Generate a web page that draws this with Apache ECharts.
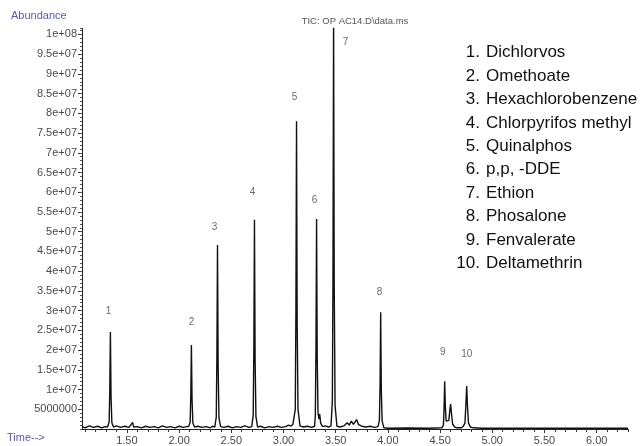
<!DOCTYPE html>
<html>
<head>
<meta charset="utf-8">
<script src="https://cdn.jsdelivr.net/npm/echarts@6/dist/echarts.min.js"></script>
<style>
html,body{margin:0;padding:0;background:#fff;}
#chart{width:641px;height:446px;}
</style>
</head>
<body>
<div id="chart"></div>
<script>
// ---- data ----
const chartTitle = 'TIC: OP AC14.D\\data.ms';
const yAxisName = 'Abundance';
const xAxisName = 'Time-->';

// Total ion chromatogram: [retention time (min), abundance]
const ticData = [
  [1.07, 6.0e5], [1.10, 3.0e5], [1.14, 8.0e5], [1.18, 4.0e5], [1.22, 7.0e5], [1.26, 3.0e5], [1.29, 6.0e5],
  [1.315, 5.0e5], [1.330, 1.8e6], [1.336, 9.5e6], [1.342, 2.46e7], [1.348, 8.5e6], [1.356, 1.6e6], [1.372, 5.0e5],
  [1.40, 8.0e5], [1.44, 4.0e5], [1.48, 7.0e5], [1.52, 4.0e5], [1.555, 1.7e6], [1.565, 5.0e5], [1.60, 6.0e5],
  [1.64, 3.0e5], [1.68, 7.0e5], [1.72, 4.0e5], [1.76, 6.0e5], [1.80, 3.0e5], [1.84, 8.0e5], [1.88, 4.0e5],
  [1.92, 6.0e5], [1.96, 3.0e5], [2.00, 7.0e5], [2.04, 4.0e5], [2.07, 6.0e5],
  [2.092, 6.0e5], [2.106, 1.7e6], [2.112, 8.5e6], [2.118, 2.13e7], [2.124, 7.5e6], [2.132, 1.5e6], [2.148, 5.0e5],
  [2.18, 7.0e5], [2.22, 4.0e5], [2.26, 6.0e5], [2.30, 3.0e5], [2.32, 7.0e5],
  [2.342, 5.0e5], [2.356, 3.0e6], [2.362, 1.8e7], [2.368, 4.66e7], [2.374, 1.6e7], [2.382, 2.8e6], [2.398, 6.0e5],
  [2.43, 4.0e5], [2.47, 7.0e5], [2.51, 3.0e5], [2.55, 6.0e5], [2.59, 4.0e5], [2.63, 8.0e5], [2.67, 4.0e5],
  [2.696, 6.0e5], [2.710, 3.5e6], [2.716, 2.0e7], [2.722, 5.30e7], [2.728, 1.8e7], [2.736, 3.2e6], [2.752, 5.0e5],
  [2.78, 7.0e5], [2.82, 3.0e5], [2.86, 6.0e5], [2.90, 4.0e5], [2.94, 7.0e5], [2.98, 4.0e5], [3.02, 6.0e5],
  [3.05, 1.0e6], [3.07, 7.0e5], [3.09, 1.2e6],
  [3.099, 1.0e6], [3.113, 5.0e6], [3.119, 3.0e7], [3.125, 7.80e7], [3.131, 2.7e7], [3.139, 5.0e6], [3.158, 8.0e5],
  [3.19, 5.0e5], [3.23, 7.0e5], [3.27, 4.0e5],
  [3.298, 7.0e5], [3.305, 3.5e6], [3.311, 2.0e7], [3.317, 5.32e7], [3.323, 1.8e7], [3.331, 4.0e6], [3.340, 2.5e6],
  [3.347, 3.8e6], [3.356, 1.5e6], [3.375, 6.0e5], [3.40, 8.0e5], [3.43, 5.0e5],
  [3.455, 8.0e5], [3.468, 7.0e6], [3.474, 3.8e7], [3.480, 1.05e8], [3.486, 3.6e7], [3.494, 6.0e6], [3.512, 7.0e5],
  [3.54, 5.0e5], [3.58, 8.0e5], [3.61, 1.6e6], [3.63, 1.0e6], [3.65, 2.0e6], [3.67, 1.2e6], [3.70, 2.4e6],
  [3.72, 1.1e6], [3.75, 7.0e5], [3.79, 5.0e5], [3.83, 7.0e5], [3.87, 4.0e5],
  [3.905, 6.0e5], [3.919, 2.2e6], [3.925, 1.1e7], [3.931, 2.96e7], [3.937, 1.0e7], [3.945, 2.0e6], [3.962, 3.0e5],
  [4.00, 2.0e5], [4.20, 2.5e5], [4.40, 2.0e5],
  [4.518, 3.0e5], [4.532, 1.0e6], [4.538, 5.0e6], [4.544, 1.21e7], [4.550, 6.0e6], [4.558, 2.0e6], [4.570, 1.6e6],
  [4.584, 2.2e6], [4.594, 5.0e6], [4.601, 6.3e6], [4.608, 4.2e6], [4.620, 1.2e6], [4.640, 5.0e5], [4.66, 3.0e5],
  [4.70, 3.0e5], [4.720, 6.0e5], [4.738, 1.5e6], [4.746, 5.5e6], [4.755, 1.09e7], [4.763, 5.5e6], [4.772, 1.5e6],
  [4.790, 5.0e5], [4.82, 3.0e5], [4.90, 2.0e5], [5.50, 2.0e5], [6.30, 2.0e5]
];

// Peak number labels above each peak: [time, abundance]
const peakNumbers = ['1', '2', '3', '4', '5', '6', '7', '8', '9', '10'];
const peakLabelTimes = [1.324, 2.118, 2.339, 2.703, 3.106, 3.298, 3.595, 3.921, 4.525, 4.755];
const peakLabelHeights = [2.99e7, 2.71e7, 5.12e7, 6.00e7, 8.41e7, 5.80e7, 9.81e7, 3.47e7, 1.95e7, 1.90e7];

// Compound list
const compoundNames = [
  'Dichlorvos', 'Omethoate', 'Hexachlorobenzene', 'Chlorpyrifos methyl', 'Quinalphos',
  'p,p, -DDE', 'Ethion', 'Phosalone', 'Fenvalerate', 'Deltamethrin'
];

// Axes
const xMin = 1.07, xMax = 6.30;
const yMin = 0, yMax = 1.015e8;
const xMajorTicks = [1.5, 2.0, 2.5, 3.0, 3.5, 4.0, 4.5, 5.0, 5.5, 6.0];
const xTickLabels = ['1.50', '2.00', '2.50', '3.00', '3.50', '4.00', '4.50', '5.00', '5.50', '6.00'];
const xMinorTicks = [1.1, 1.2, 1.3, 1.4, 1.6, 1.7, 1.8, 1.9, 2.1, 2.2, 2.3, 2.4, 2.6, 2.7, 2.8, 2.9,
  3.1, 3.2, 3.3, 3.4, 3.6, 3.7, 3.8, 3.9, 4.1, 4.2, 4.3, 4.4, 4.6, 4.7, 4.8, 4.9,
  5.1, 5.2, 5.3, 5.4, 5.6, 5.7, 5.8, 5.9, 6.1, 6.2, 6.3];
const yMajorTicks = [5e6, 1e7, 1.5e7, 2e7, 2.5e7, 3e7, 3.5e7, 4e7, 4.5e7, 5e7,
  5.5e7, 6e7, 6.5e7, 7e7, 7.5e7, 8e7, 8.5e7, 9e7, 9.5e7, 1e8];
const yTickLabels = ['5000000', '1e+07', '1.5e+07', '2e+07', '2.5e+07', '3e+07', '3.5e+07', '4e+07', '4.5e+07', '5e+07',
  '5.5e+07', '6e+07', '6.5e+07', '7e+07', '7.5e+07', '8e+07', '8.5e+07', '9e+07', '9.5e+07', '1e+08'];
const yMinorInterval = 1e6;

// ---- chart ----
function lookup(values, labels, v) {
  for (let i = 0; i < values.length; i++) {
    if (Math.abs(values[i] - v) < 1e-6 * Math.max(1, Math.abs(v))) return labels[i];
  }
  return '';
}

const axisFont = 'Liberation Sans, Arial, sans-serif';
const labelColor = '#4a4a4a';
const nameColor = '#5a5aa8';

const chart = echarts.init(document.getElementById('chart'), null, {renderer: 'canvas'});

const graphic = [];
graphic.push({type: 'text', x: 355, y: 21, style: {text: chartTitle, align: 'center', verticalAlign: 'middle', fill: '#555', font: '9.5px ' + axisFont}});
graphic.push({type: 'text', x: 11, y: 16, style: {text: yAxisName, align: 'left', verticalAlign: 'middle', fill: nameColor, font: '11px ' + axisFont}});
graphic.push({type: 'text', x: 7, y: 438, style: {text: xAxisName, align: 'left', verticalAlign: 'middle', fill: nameColor, font: '11px ' + axisFont}});
compoundNames.forEach(function (name, i) {
  const cy = 52.7 + i * 23.4;
  graphic.push({type: 'text', x: 480, y: cy, style: {text: (i + 1) + '.', align: 'right', verticalAlign: 'middle', fill: '#111', font: '17px ' + axisFont}});
  graphic.push({type: 'text', x: 486, y: cy, style: {text: name, align: 'left', verticalAlign: 'middle', fill: '#111', font: '17px ' + axisFont}});
});

const option = {
  animation: false,
  backgroundColor: '#fff',
  grid: {left: 82, right: 13, top: 28.5, bottom: 17, containLabel: false},
  xAxis: [
    {
      type: 'value', min: xMin, max: xMax, position: 'bottom',
      axisLine: {show: true, onZero: false, lineStyle: {color: '#222', width: 1}},
      axisTick: {show: true, customValues: xMinorTicks, length: 3, lineStyle: {color: '#333'}},
      axisLabel: {show: true, customValues: xMajorTicks, margin: 6, color: labelColor, fontSize: 11, fontFamily: axisFont,
        formatter: function (v) { return lookup(xMajorTicks, xTickLabels, v); }},
      splitLine: {show: false}
    },
    {
      type: 'value', min: xMin, max: xMax, position: 'bottom',
      axisLine: {show: false},
      axisTick: {show: true, customValues: xMajorTicks, length: 4, lineStyle: {color: '#333'}},
      axisLabel: {show: false},
      splitLine: {show: false}
    }
  ],
  yAxis: [
    {
      type: 'value', min: yMin, max: yMax, position: 'left',
      axisLine: {show: true, onZero: false, lineStyle: {color: '#222', width: 1}},
      axisTick: {show: true, customValues: yMajorTicks, length: 4, lineStyle: {color: '#333'}},
      axisLabel: {show: true, customValues: yMajorTicks, margin: 5, color: labelColor, fontSize: 11, fontFamily: axisFont,
        formatter: function (v) { return lookup(yMajorTicks, yTickLabels, v); }},
      splitLine: {show: false}
    },
    {
      type: 'value', min: yMin, max: yMax, position: 'left', interval: yMinorInterval,
      axisLine: {show: false},
      axisTick: {show: true, length: 2, lineStyle: {color: '#555'}},
      axisLabel: {show: false},
      splitLine: {show: false}
    }
  ],
  series: [
    {
      type: 'line', xAxisIndex: 0, yAxisIndex: 0, data: ticData, showSymbol: false, symbol: 'none',
      clip: true, lineStyle: {color: '#111', width: 1.4}, silent: true
    },
    {
      type: 'scatter', xAxisIndex: 0, yAxisIndex: 0, symbolSize: 0, silent: true,
      data: peakNumbers.map(function (n, i) { return {name: n, value: [peakLabelTimes[i], peakLabelHeights[i]]}; }),
      label: {show: true, position: 'inside', formatter: '{b}', color: '#444', fontSize: 10, fontFamily: axisFont}
    }
  ],
  graphic: graphic
};
chart.setOption(option);
</script>
</body>
</html>
